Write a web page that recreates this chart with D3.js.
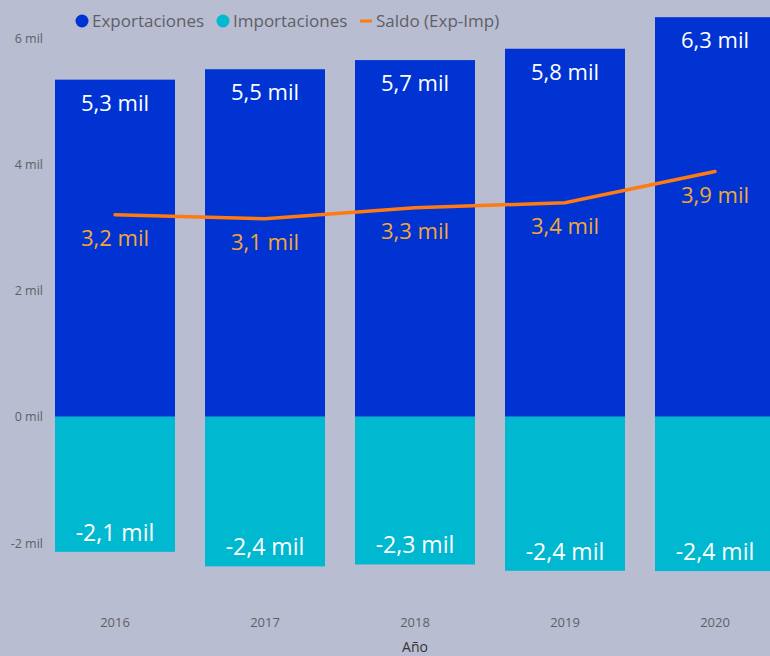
<!DOCTYPE html>
<html>
<head>
<meta charset="utf-8">
<script src="https://cdn.jsdelivr.net/npm/d3@7"></script>
<style>
html,body{margin:0;padding:0;background:#b9bdd1;overflow:hidden;}
svg{display:block;font-family:"Open Sans","Noto Sans",sans-serif;}
</style>
</head>
<body>
<svg id="chart" width="770" height="656"></svg>
<script>
const years = ["2016","2017","2018","2019","2020"];
const exportaciones = [5340, 5505, 5650, 5830, 6330];
const importaciones = [-2140, -2370, -2340, -2440, -2445];
const saldo = [3200, 3135, 3310, 3390, 3885];
const yTicks = [-2000, 0, 2000, 4000, 6000];
const legendItems = ["Exportaciones", "Importaciones", "Saldo (Exp-Imp)"];

const colors = {exp:"#0033d2", imp:"#00b9d1", line:"#ff7a10", saldoText:"#f2a833"};
const fmt = v => (v/1000).toFixed(1).replace(".", ",") + " mil";
const fmtTick = v => (v/1000) + " mil";

const svg = d3.select("#chart");
const W = 770, H = 656;
svg.append("rect").attr("width", W).attr("height", H).attr("fill", "#b9bdd1");

const x = d3.scaleBand().domain(years).range([40, 790]).paddingInner(0.2).paddingOuter(0.1);
const y = d3.scaleLinear().domain([-2000, 6000]).range([543, 38]);

// y axis
const yAxis = d3.axisLeft(y).tickValues(yTicks).tickFormat(fmtTick).tickSize(0).tickPadding(0);
const gy = svg.append("g").attr("transform", "translate(43,0)").call(yAxis);
gy.select(".domain").remove();
gy.selectAll("text").attr("fill", "#5f5f66").style("font-size", "12.5px")
  .style("font-family", "'Open Sans','Noto Sans',sans-serif");

// x axis
const xAxis = d3.axisBottom(x).tickSize(0).tickPadding(0);
const gx = svg.append("g").attr("transform", "translate(0,618)").call(xAxis);
gx.select(".domain").remove();
gx.selectAll("text").attr("fill", "#5f5f66").style("font-size", "13px")
  .style("font-family", "'Open Sans','Noto Sans',sans-serif");

svg.append("text").attr("x", x("2018") + x.bandwidth()/2).attr("y", 652)
  .attr("text-anchor", "middle").attr("fill", "#333").style("font-size", "14px").text("Año");

// bars
svg.selectAll(".exp").data(years).join("rect").attr("class", "exp")
  .attr("x", d => x(d)).attr("width", x.bandwidth())
  .attr("y", (d,i) => y(exportaciones[i])).attr("height", (d,i) => y(0) - y(exportaciones[i]))
  .attr("fill", colors.exp);
svg.selectAll(".imp").data(years).join("rect").attr("class", "imp")
  .attr("x", d => x(d)).attr("width", x.bandwidth())
  .attr("y", y(0)).attr("height", (d,i) => y(importaciones[i]) - y(0))
  .attr("fill", colors.imp);

// line
const line = d3.line().x((d,i) => x(years[i]) + x.bandwidth()/2).y(d => y(d)).curve(d3.curveLinear);
svg.append("path").datum(saldo).attr("d", line).attr("fill", "none")
  .attr("stroke", colors.line).attr("stroke-width", 3.5).attr("stroke-linecap", "round");

// labels
svg.selectAll(".lexp").data(years).join("text").attr("class", "lexp")
  .attr("x", d => x(d) + x.bandwidth()/2).attr("y", (d,i) => y(exportaciones[i]) + 31)
  .attr("text-anchor", "middle").attr("fill", "#fff").style("font-size", "22px")
  .text((d,i) => fmt(exportaciones[i]));
svg.selectAll(".limp").data(years).join("text").attr("class", "limp")
  .attr("x", d => x(d) + x.bandwidth()/2).attr("y", (d,i) => y(importaciones[i]) - 11)
  .attr("text-anchor", "middle").attr("fill", "#fff").style("font-size", "23px")
  .text((d,i) => fmt(importaciones[i]));
svg.selectAll(".lsal").data(years).join("text").attr("class", "lsal")
  .attr("x", d => x(d) + x.bandwidth()/2).attr("y", (d,i) => y(saldo[i]) + 31)
  .attr("text-anchor", "middle").attr("fill", colors.saldoText).style("font-size", "22px")
  .text((d,i) => fmt(saldo[i]));

// legend
const lg = svg.append("g").attr("transform", "translate(0,21)");
const lx = [82, 223, 360];
lg.append("circle").attr("cx", lx[0]).attr("cy", 0).attr("r", 6.5).attr("fill", colors.exp);
lg.append("circle").attr("cx", lx[1]).attr("cy", 0).attr("r", 6.5).attr("fill", colors.imp);
lg.append("line").attr("x1", lx[2]).attr("x2", lx[2] + 12).attr("y1", 0).attr("y2", 0)
  .attr("stroke", colors.line).attr("stroke-width", 3);
const tx = [92, 233, 376];
legendItems.forEach((t, i) => {
  lg.append("text").attr("x", tx[i]).attr("y", 0).attr("dy", "0.35em")
    .attr("fill", "#5f5f66").style("font-size", "17px").text(t);
});
</script>
</body>
</html>
